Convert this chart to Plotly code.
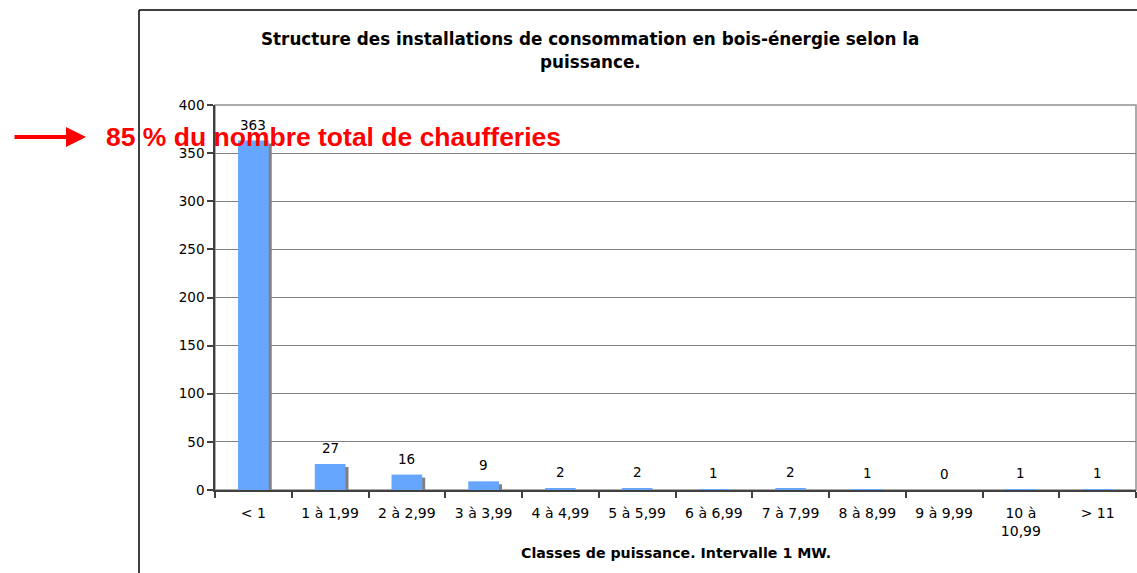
import plotly.graph_objects as go

categories = ["< 1", "1 à 1,99", "2 à 2,99", "3 à 3,99", "4 à 4,99", "5 à 5,99",
              "6 à 6,99", "7 à 7,99", "8 à 8,99", "9 à 9,99", "10 à<br>10,99", "> 11"]
values = [363, 27, 16, 9, 2, 2, 1, 2, 1, 0, 1, 1]
y_ticks = [0, 50, 100, 150, 200, 250, 300, 350, 400]

title_line1 = "Structure des installations de consommation en bois-énergie selon la"
title_line2 = "puissance."
x_title = "Classes de puissance. Intervalle 1 MW."
note = "85 % du nombre total de chaufferies"

# page body margin is removed by the post script, so the figure fills the page
W, H = 1137, 573
# plot area in page pixels: x 215..1136, y 105..490
L, R, T, B = 215, W - 1136, 105, H - 490
PW, PH = W - L - R, H - T - B
YMAX = 400


def px(x):
    """page pixel x -> paper coordinate"""
    return (x - L) / PW


def py(y):
    """page pixel y -> paper coordinate"""
    return (H - B - y) / PH


shadow_dx = 3 / (PW / len(categories))
shadow_dy = 3 * YMAX / PH
bar_w = 0.4
shadow_vals = [max(v - shadow_dy, 0) for v in values]

fig = go.Figure()
fig.add_trace(go.Bar(x=categories, y=shadow_vals, width=bar_w, offset=-bar_w / 2 + shadow_dx,
                     marker=dict(color="#808080", line=dict(width=0)), hoverinfo="skip",
                     showlegend=False))
fig.add_trace(go.Bar(x=categories, y=values, width=bar_w, offset=-bar_w / 2,
                     marker=dict(color="#66a6ff", line=dict(width=0)),
                     cliponaxis=False, showlegend=False))

fig.update_layout(
    width=W, height=H, barmode="overlay",
    margin=dict(l=L, r=R, t=T, b=B, autoexpand=False),
    paper_bgcolor="white", plot_bgcolor="white",
    font=dict(family="DejaVu Sans", size=13.5, color="#000000"),
)
fig.update_xaxes(type="category", showline=True, linecolor="#404040", linewidth=1.5,
                 ticks="outside", tickson="boundaries", ticklen=6, tickcolor="#404040",
                 tickwidth=1.5, showgrid=False, tickfont=dict(size=14),
                 ticklabelstandoff=9)
fig.update_yaxes(range=[0, YMAX], tickvals=y_ticks, showline=True, linecolor="#404040",
                 linewidth=1.5, ticks="outside", ticklen=6, tickcolor="#404040", tickwidth=1.5,
                 showgrid=True, gridcolor="#808080", gridwidth=1, zeroline=False,
                 tickfont=dict(size=13.5))

shapes = [
    dict(type="rect", xref="paper", yref="paper", x0=0, x1=1, y0=0, y1=1,
         line=dict(color="#909090", width=1.5), layer="below"),
    dict(type="line", xref="paper", yref="paper", x0=px(139), x1=px(1145), y0=py(10), y1=py(10),
         line=dict(color="#000000", width=1.5)),
    dict(type="line", xref="paper", yref="paper", x0=px(139), x1=px(139), y0=py(10), y1=py(590),
         line=dict(color="#000000", width=1.5)),
]
fig.update_layout(shapes=shapes)

annotations = [
    dict(text=str(v), x=c, y=v, xref="x", yref="y", xanchor="center", yanchor="bottom",
         yshift=6, showarrow=False,
         font=dict(family="DejaVu Sans", size=13.5, color="#000000"))
    for c, v in zip(categories, values)
]
annotations += [
    dict(text=title_line1, x=px(590), y=py(39), xref="paper", yref="paper",
         xanchor="center", yanchor="middle", showarrow=False,
         font=dict(family="DejaVu Sans", size=16.8, weight="bold", color="#000000")),
    dict(text=title_line2, x=px(590), y=py(62), xref="paper", yref="paper",
         xanchor="center", yanchor="middle", showarrow=False,
         font=dict(family="DejaVu Sans", size=16.8, weight="bold", color="#000000")),
    dict(text=x_title, x=px(676), y=py(553), xref="paper", yref="paper",
         xanchor="center", yanchor="middle", showarrow=False,
         font=dict(family="DejaVu Sans", size=14.2, weight="bold", color="#000000")),
    dict(text=note, x=px(104), y=py(137), xref="paper", yref="paper",
         xanchor="left", yanchor="middle", showarrow=False,
         font=dict(family="Liberation Sans", size=26.5, weight="bold", color="#ff0000")),
    dict(text="", x=px(86), y=py(137), xref="paper", yref="paper", showarrow=True,
         ax=-73, ay=0, arrowhead=2, arrowsize=1.0, arrowwidth=4, arrowcolor="#ff0000",
         standoff=0, startstandoff=0),
]
fig.update_layout(annotations=annotations)

fig.write_html("out.html", config={"displayModeBar": False},
               post_script="document.body.style.margin='0px';")
